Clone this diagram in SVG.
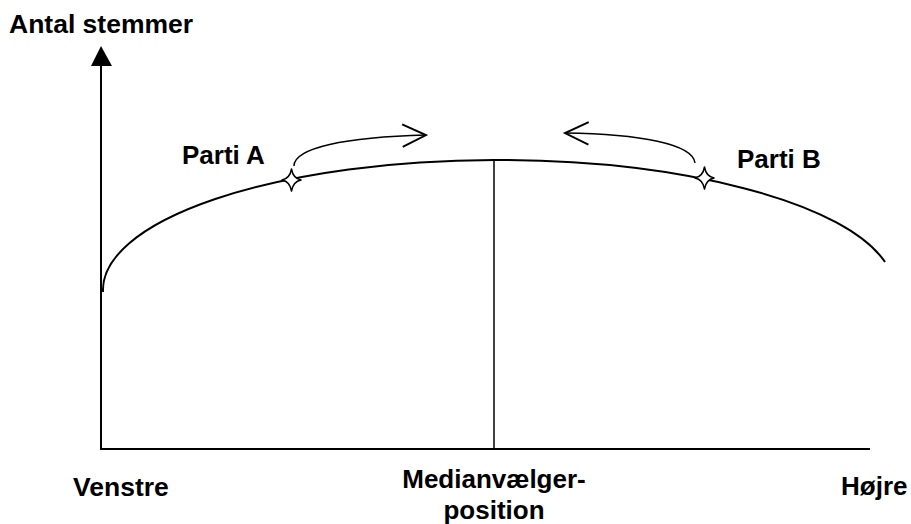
<svg xmlns="http://www.w3.org/2000/svg" width="911" height="524" viewBox="0 0 911 524">
<style>
  text { font-family: "Liberation Sans", Arial, sans-serif; font-weight: bold; font-size: 26px; fill: #000; }
  .ln { fill: none; stroke: #000; stroke-width: 2; }
  .thin { fill: none; stroke: #000; stroke-width: 1.5; }
  .star { fill: #fff; stroke: #000; stroke-width: 1.5; stroke-linejoin: round; }
</style>
<defs>
  <marker id="open" markerUnits="userSpaceOnUse" markerWidth="30" markerHeight="30" viewBox="-24 -13 28 26" refX="0" refY="0" orient="auto">
    <path d="M-22,-10.5 L0,0 L-22,10.5" fill="none" stroke="#000" stroke-width="1.8"/>
  </marker>
  <path id="starShape" d="M0,-11 Q1.6,-1.6 9.5,0 Q1.6,1.6 0,11 Q-1.6,1.6 -9.5,0 Q-1.6,-1.6 0,-11 Z"/>
</defs>

<g id="axes">
  <line class="ln" x1="101" y1="449" x2="101" y2="62"/>
  <polygon points="101,46 91,66 112,66" fill="#000"/>
  <line class="ln" x1="100" y1="449" x2="870" y2="449"/>
  <line class="thin" x1="494" y1="160" x2="494" y2="449"/>
</g>

<g id="curve">
  <path class="ln" d="M103,292 A393,130 0 0 1 494,160 A398,130 0 0 1 885,262"/>
</g>

<g id="connectors">
  <path class="thin" d="M294,166 C294,148 345,137 426,135" marker-end="url(#open)"/>
  <path class="thin" d="M695,163 C693,144 640,134 565,133" marker-end="url(#open)"/>
</g>

<g id="partiA">
  <use href="#starShape" class="star" transform="translate(291.5,180)"/>
  <text x="182" y="164">Parti A</text>
</g>

<g id="partiB">
  <use href="#starShape" class="star" transform="translate(704.5,178)"/>
  <text x="737" y="168">Parti B</text>
</g>

<g id="labels">
  <text x="9" y="33" style="font-size:26.5px">Antal stemmer</text>
  <text x="73" y="496" style="font-size:26.5px">Venstre</text>
  <text x="494" y="488" text-anchor="middle">Medianvælger-</text>
  <text x="494" y="519" text-anchor="middle">position</text>
  <text x="841" y="495">Højre</text>
</g>
</svg>
